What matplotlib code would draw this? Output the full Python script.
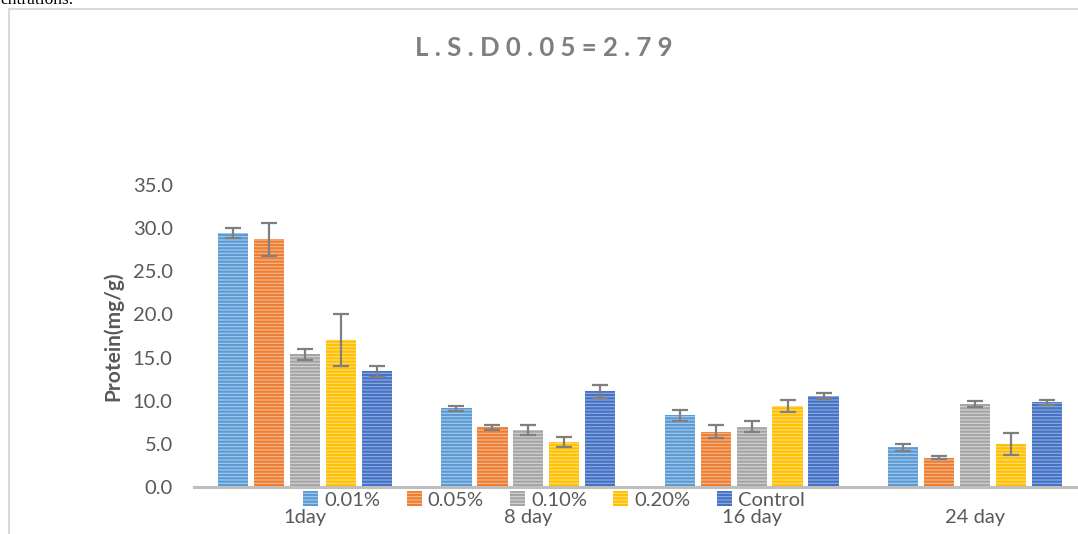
import matplotlib
matplotlib.use("Agg")
import matplotlib.pyplot as plt
import numpy as np
from matplotlib.lines import Line2D
from matplotlib.patches import Patch

# Data: protein content (mg/g) by storage day and treatment
days = ["1day", "8 day", "16 day", "24 day"]
treatments = ["0.01%", "0.05%", "0.10%", "0.20%", "Control"]
v_001 = [29.4, 9.1, 8.3, 4.6]
v_005 = [28.7, 6.9, 6.4, 3.4]
v_010 = [15.4, 6.6, 7.0, 9.6]
v_020 = [17.0, 5.2, 9.4, 5.0]
v_ctrl = [13.4, 11.1, 10.6, 9.8]
e_001 = [0.6, 0.3, 0.6, 0.4]
e_005 = [1.9, 0.25, 0.75, 0.15]
e_010 = [0.65, 0.6, 0.6, 0.35]
e_020 = [3.0, 0.6, 0.7, 1.25]
e_ctrl = [0.6, 0.75, 0.35, 0.25]
y_ticks = [0, 5, 10, 15, 20, 25, 30, 35]
title = "L.S.D0.05=2.79"

values = [v_001, v_005, v_010, v_020, v_ctrl]
errors = [e_001, e_005, e_010, e_020, e_ctrl]
base_colors = ["#5B9BD5", "#ED7D31", "#A5A5A5", "#FFC000", "#4472C4"]
light_colors = ["#A9CBEB", "#F6BA93", "#D4D4D4", "#FFDD7A", "#93ACDE"]

plt.rcParams["font.family"] = ["Lato", "DejaVu Sans"]
plt.rcParams["hatch.linewidth"] = 1.6

W, H = 1078, 534
fig = plt.figure(figsize=(W / 100, H / 100), dpi=100)

# axes geometry in pixels
ax_left, ax_right = 193.5, 1086.5
ax_bottom, ax_top = 487, 185
ax = fig.add_axes([ax_left / W, 1 - ax_bottom / H,
                   (ax_right - ax_left) / W, (ax_bottom - ax_top) / H])

x = np.arange(len(days))
step = 0.161
width = 0.135
for i, (vals, errs) in enumerate(zip(values, errors)):
    pos = x + (i - 2) * step
    ax.bar(pos, vals, width=width, color=light_colors[i],
           edgecolor=base_colors[i], hatch="-----", linewidth=0, zorder=2)
    ax.errorbar(pos, vals, yerr=errs, fmt="none", ecolor="#7F7F7F",
                elinewidth=1.6, capsize=6, capthick=1.6, zorder=3)

ax.set_xlim(-0.5, len(days) - 0.5)
ax.set_ylim(0, 35)
ax.set_yticks(y_ticks)
ax.set_yticklabels([f"{t:.1f}" for t in y_ticks])
ax.set_xticks(x)
ax.set_xticklabels(days)
ax.tick_params(axis="y", length=0, pad=15, labelsize=14.5, labelcolor="#595959")
ax.tick_params(axis="x", length=0, pad=16, labelsize=14.5, labelcolor="#595959")
for s in ["top", "right", "left"]:
    ax.spines[s].set_visible(False)
ax.spines["bottom"].set_color("#BFBFBF")
ax.spines["bottom"].set_linewidth(2.2)
ax.set_ylabel("Protein(mg/g)", fontsize=15, fontweight="bold",
              color="#595959", labelpad=7)

# legend between axis and category labels
handles = [Patch(facecolor=light_colors[i], edgecolor=base_colors[i],
                 hatch="-----", linewidth=0) for i in range(len(treatments))]
fig.legend(handles, treatments, loc="center", ncol=5,
           bbox_to_anchor=(554 / W, 1 - 500 / H), frameon=False,
           fontsize=14.5, labelcolor="#595959", handlelength=0.75,
           handleheight=0.75, handletextpad=0.3, columnspacing=1.3,
           borderaxespad=0)

# chart title, letter-spaced
fig.text(544 / W, 1 - 48 / H, " ".join(title), ha="center", va="center",
         fontsize=18.5, fontweight="bold", color="#7F7F7F")

# outer chart frame
fig.add_artist(Line2D([8.5 / W, 8.5 / W], [1 - 9 / H, 0], color="#D9D9D9",
                      linewidth=1.5, transform=fig.transFigure))
fig.add_artist(Line2D([8.5 / W, 1], [1 - 9 / H, 1 - 9 / H], color="#D9D9D9",
                      linewidth=1.5, transform=fig.transFigure))

# caption text running in from above
fig.text(0, 1 - 4 / H, "entrations.", ha="left", va="baseline",
         fontsize=12.5, family="Liberation Serif", color="black")

fig.savefig("out.png", dpi=100)
